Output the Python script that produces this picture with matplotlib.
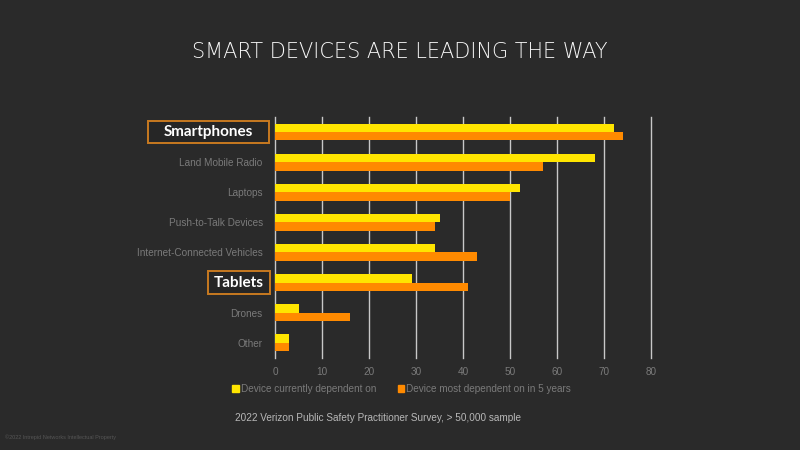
import matplotlib
matplotlib.use("Agg")
import matplotlib.pyplot as plt
import matplotlib.transforms as mtransforms
import numpy as np
from matplotlib.patches import Patch, Rectangle

categories = ["Smartphones", "Land Mobile Radio", "Laptops", "Push-to-Talk Devices",
              "Internet-Connected Vehicles", "Tablets", "Drones", "Other"]
current = [72, 68, 52, 35, 34, 29, 5, 3]
future = [74, 57, 50, 34, 43, 41, 16, 3]
series_names = ["Device currently dependent on", "Device most dependent on in 5 years"]
highlight = ["Smartphones", "Tablets"]
xticks = [0, 10, 20, 30, 40, 50, 60, 70, 80]

plt.rcParams["font.family"] = ["Liberation Sans", "DejaVu Sans"]

BG = "#2a2a2a"
YELLOW = "#ffe500"
ORANGE = "#ff8a00"
GRID = "#c8c8c8"
LABEL = "#7a7a7a"
FS = 7.2

fig = plt.figure(figsize=(8, 4.5), dpi=100, facecolor=BG)
ax = fig.add_axes([0.344, 0.205, 0.470, 0.535], facecolor=BG)

y = np.arange(len(categories))
h = 0.28
ax.barh(y - h / 2, current, height=h, color=YELLOW, label=series_names[0], zorder=3)
ax.barh(y + h / 2, future, height=h, color=ORANGE, label=series_names[1], zorder=3)

ax.set_xlim(0, 80)
ax.set_ylim(len(categories) - 0.5, -0.5)
ax.set_xticks(xticks)
ax.set_xticklabels([str(t) for t in xticks])
ax.set_yticks(y)
ax.set_yticklabels(categories)
ax.grid(axis="x", color=GRID, linewidth=1.0, zorder=0)
for gl in ax.xaxis.get_gridlines():
    gl.set_clip_on(False)
for s in ax.spines.values():
    s.set_visible(False)
ax.tick_params(axis="both", length=0, colors=LABEL, labelsize=FS)
ax.tick_params(axis="y", pad=9)
ax.tick_params(axis="x", pad=7)

# highlighted category boxes (axes-fraction x, data y)
trans = mtransforms.blended_transform_factory(ax.transAxes, ax.transData)
box_spec = {"Smartphones": (-0.338, -0.017, 0.72), "Tablets": (-0.180, -0.015, 0.78)}
for lbl in ax.get_yticklabels():
    lbl.set_color(LABEL)
    name = lbl.get_text()
    if name in highlight:
        lbl.set_visible(False)
        yi = categories.index(name)
        x0, x1, hh = box_spec[name]
        ax.add_patch(Rectangle((x0, yi - hh / 2), x1 - x0, hh, transform=trans,
                               facecolor="#262626", edgecolor="#c87a20", linewidth=1.4,
                               clip_on=False, zorder=5))
        ax.text((x0 + x1) / 2, yi, name, transform=trans, ha="center", va="center",
                color="white", fontsize=11, fontweight="bold",
                family=["Lato", "DejaVu Sans"], zorder=6, clip_on=False)

handles = [Patch(color=YELLOW), Patch(color=ORANGE)]
leg = fig.legend(handles, series_names, loc="center", bbox_to_anchor=(0.502, 0.135),
                 ncol=2, frameon=False, fontsize=FS, handlelength=0.65, handleheight=0.65,
                 handletextpad=0.2, columnspacing=2.2)
for t in leg.get_texts():
    t.set_color(LABEL)

fig.text(0.5, 0.885, "SMART DEVICES ARE LEADING THE WAY", ha="center", va="center",
         color="#f8f8f8", fontsize=15, fontweight="light", family=["DejaVu Sans"])
fig.text(0.472, 0.071, "2022 Verizon Public Safety Practitioner Survey, > 50,000 sample",
         ha="center", va="center", color="#b8b8b8", fontsize=FS)
fig.text(0.006, 0.028, "©2022 Intrepid Networks Intellectual Property", ha="left",
         va="center", color="#555555", fontsize=4)

fig.savefig("out.png", dpi=100, facecolor=BG)
